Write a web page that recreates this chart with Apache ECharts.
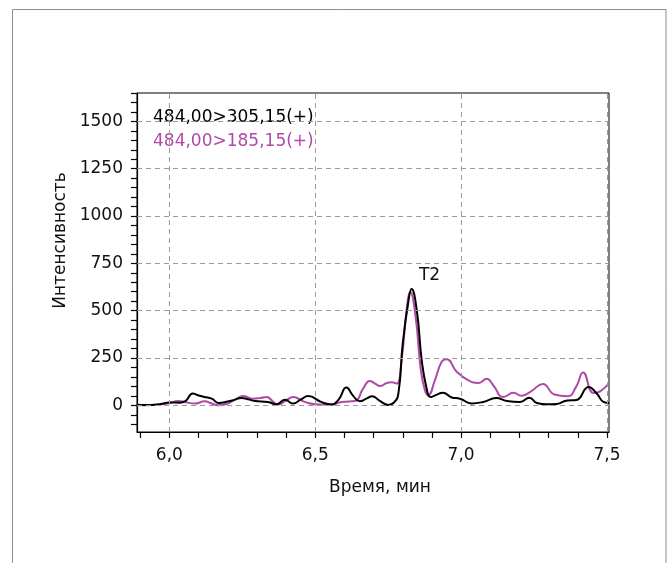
<!DOCTYPE html>
<html>
<head>
<meta charset="utf-8">
<title>Хроматограмма</title>
<script src="https://cdn.jsdelivr.net/npm/echarts@6/dist/echarts.min.js"></script>
<style>
  html, body { margin: 0; padding: 0; background: #ffffff; }
  #chart { width: 669px; height: 563px; }
</style>
</head>
<body>
<div id="chart"></div>
<script>
// MRM transitions
const seriesNames = ['484,00>305,15(+)', '484,00>185,15(+)'];
const seriesColors = ['#000000', '#b04aa6'];
const peakLabel = 'T2';

// 484,00>305,15(+) : retention time (min), intensity
const timeA = [5.889, 5.92, 5.95, 5.975, 6.0, 6.035, 6.055, 6.08, 6.1, 6.12, 6.145, 6.17, 6.2, 6.225, 6.247, 6.27,
  6.293, 6.338, 6.367, 6.396, 6.424, 6.45, 6.476, 6.52, 6.556, 6.58, 6.607, 6.63, 6.653, 6.675, 6.695, 6.72,
  6.75, 6.77, 6.785, 6.8, 6.82, 6.83, 6.848, 6.865, 6.882, 6.895, 6.915, 6.937, 6.968, 6.996, 7.036, 7.076,
  7.12, 7.157, 7.202, 7.234, 7.26, 7.294, 7.328, 7.365, 7.395, 7.437, 7.465, 7.488, 7.507];
const intensityA = [3, 2, 3, 8, 15, 14, 22, 62, 52, 44, 35, 12, 20, 30, 39, 32,
  23, 18, 5, 30, 9, 30, 49, 18, 4, 30, 94, 50, 21, 35, 48, 25,
  2, 15, 62, 327, 556, 614, 503, 238, 88, 44, 55, 67, 41, 35, 10, 18,
  38, 23, 18, 40, 12, 5, 7, 26, 28, 97, 62, 18, 12];

// 484,00>185,15(+) : retention time (min), intensity
const timeB = [5.889, 5.93, 5.967, 6.0, 6.03, 6.053, 6.087, 6.121, 6.145, 6.167, 6.2, 6.225, 6.253, 6.287, 6.31, 6.333,
  6.355, 6.373, 6.4, 6.424, 6.464, 6.51, 6.556, 6.59, 6.636, 6.664, 6.687, 6.705, 6.722, 6.745, 6.762, 6.779,
  6.796, 6.813, 6.826, 6.844, 6.862, 6.876, 6.887, 6.91, 6.933, 6.95, 6.985, 7.025, 7.06, 7.088, 7.11, 7.145,
  7.18, 7.206, 7.24, 7.28, 7.32, 7.365, 7.395, 7.418, 7.454, 7.478, 7.507];
const intensityB = [0, 0, 4, 12, 23, 18, 9, 21, 10, 0, 9, 30, 49, 35, 38, 44,
  20, 4, 25, 44, 18, 4, 4, 18, 23, 88, 129, 115, 102, 118, 122, 115,
  238, 503, 597, 468, 185, 80, 53, 132, 229, 244, 177, 132, 118, 140, 106, 44,
  66, 50, 74, 113, 57, 48, 100, 174, 65, 75, 118];

// axis ticks, labels and grid lines
const xTicks = [5.9, 6.0, 6.1, 6.2, 6.3, 6.4, 6.5, 6.6, 6.7, 6.8, 6.9, 7.0, 7.1, 7.2, 7.3, 7.4, 7.5];
const xLabels = [6.0, 6.5, 7.0, 7.5];
const yTicks = [-100, -50, 0, 50, 100, 150, 200, 250, 300, 350, 400, 450, 500, 550, 600, 650, 700, 750, 800,
  850, 900, 950, 1000, 1050, 1100, 1150, 1200, 1250, 1300, 1350, 1400, 1450, 1500, 1550, 1600, 1650];
const yLabels = [0, 250, 500, 750, 1000, 1250, 1500];
const xRange = [5.889, 7.507];
const yRange = [-141, 1650];

const FONT = 'DejaVu Sans';
const pairs = (xs, ys) => xs.map((x, i) => [x, ys[i]]);

const chart = echarts.init(document.getElementById('chart'), null, { renderer: 'canvas' });

const gridLineStyle = { color: '#9a9a9a', type: [5, 4], width: 1 };

chart.setOption({
  animation: false,
  backgroundColor: '#ffffff',
  textStyle: { fontFamily: FONT },
  graphic: [{
    type: 'rect',
    silent: true,
    shape: { x: 12.5, y: 9.5, width: 653.5, height: 620 },
    style: { fill: 'none', stroke: '#8c8c8c', lineWidth: 1 }
  }],
  grid: {
    left: 137, right: 60, top: 93, bottom: 131,
    show: true, borderColor: '#000', borderWidth: 1, backgroundColor: 'transparent'
  },
  legend: {
    orient: 'vertical',
    left: 143, top: 103,
    icon: 'none', itemWidth: 0, itemHeight: 20, itemGap: 4,
    selectedMode: false,
    textStyle: { fontFamily: FONT, fontSize: 17, lineHeight: 20 },
    data: seriesNames.map((n, i) => ({ name: n, textStyle: { color: seriesColors[i] } }))
  },
  xAxis: {
    type: 'value',
    min: xRange[0], max: xRange[1],
    name: 'Время, мин',
    nameLocation: 'middle',
    nameGap: 47,
    nameTextStyle: { fontFamily: FONT, fontSize: 17, color: '#111', padding: [0, 0, 0, 14] },
    axisLine: { show: true, onZero: false, lineStyle: { color: '#000', width: 1.2 } },
    axisTick: { show: true, length: 6, customValues: xTicks, lineStyle: { color: '#000', width: 1.2 } },
    axisLabel: {
      customValues: xLabels, margin: 15, fontFamily: FONT, fontSize: 17, color: '#111',
      formatter: v => v.toFixed(1).replace('.', ',')
    },
    splitLine: { show: false }
  },
  yAxis: {
    type: 'value',
    min: yRange[0], max: yRange[1],
    name: 'Интенсивность',
    nameLocation: 'middle',
    nameGap: 68,
    nameTextStyle: { fontFamily: FONT, fontSize: 17, color: '#111', padding: [0, 0, 0, 44] },
    axisLine: { show: true, onZero: false, lineStyle: { color: '#000', width: 1.2 } },
    axisTick: { show: true, length: 6, customValues: yTicks, lineStyle: { color: '#000', width: 1.2 } },
    axisLabel: {
      customValues: yLabels, margin: 14, fontFamily: FONT, fontSize: 17, color: '#111',
      formatter: v => String(v)
    },
    splitLine: { show: false }
  },
  series: [
    {
      // dashed grid at the labelled ticks
      name: 'grid',
      type: 'line',
      data: [],
      silent: true,
      markLine: {
        silent: true,
        symbol: 'none',
        label: { show: false },
        lineStyle: gridLineStyle,
        emphasis: { disabled: true },
        data: yLabels.map(v => ({ yAxis: v })).concat(xLabels.map(v => ({ xAxis: v })))
      }
    },
    {
      name: seriesNames[1],
      type: 'line',
      data: pairs(timeB, intensityB),
      showSymbol: false,
      smooth: 0.5,
      lineStyle: { color: seriesColors[1], width: 2 },
      itemStyle: { color: seriesColors[1] }
    },
    {
      name: seriesNames[0],
      type: 'line',
      data: pairs(timeA, intensityA),
      showSymbol: false,
      smooth: 0.5,
      lineStyle: { color: seriesColors[0], width: 2 },
      itemStyle: { color: seriesColors[0] },
      markPoint: {
        symbol: 'circle',
        symbolSize: 0,
        silent: true,
        label: {
          show: true, position: 'top', distance: 5, offset: [18, 0],
          fontFamily: FONT, fontSize: 17, color: '#111',
          formatter: peakLabel
        },
        data: [{ type: 'max', name: peakLabel }]
      }
    }
  ]
});
</script>
</body>
</html>
